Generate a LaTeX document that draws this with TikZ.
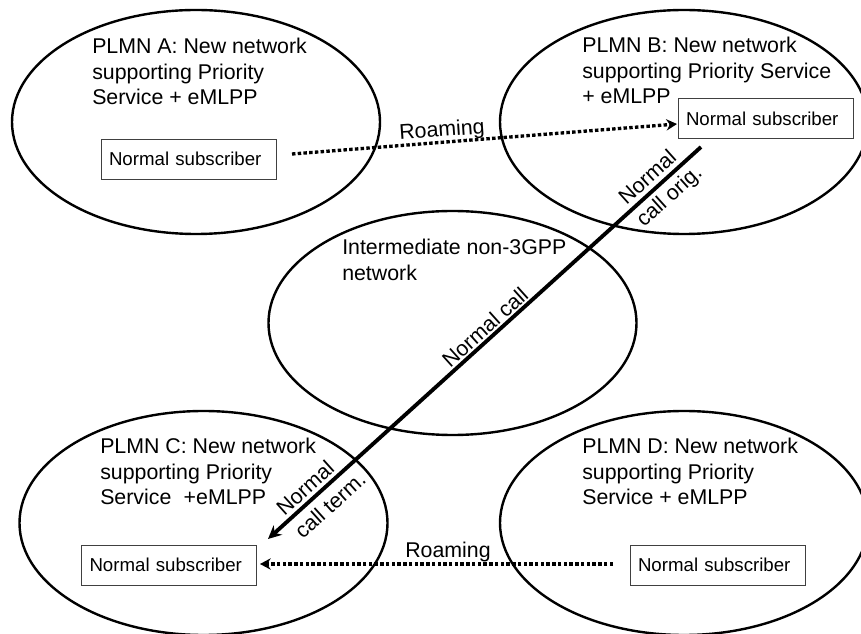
\documentclass[tikz,border=0pt]{standalone}
\usepackage{fontspec}
\setmainfont{Liberation Sans}
\usetikzlibrary{arrows.meta,shapes.geometric}
\tikzset{
 x=0.75pt,y=-0.75pt,
 net/.style={draw,ellipse,line width=1.8pt,inner sep=0pt,minimum width=368*0.75pt,minimum height=224*0.75pt},
 sub/.style={draw,draw=black!75,line width=0.7pt,minimum height=40*0.75pt,inner ysep=0pt,inner xsep=8*0.75pt,text width=159*0.75pt,align=left,font=\fontsize{14}{16}\selectfont},
 lab/.style={align=left,anchor=north west,inner sep=0pt,font=\fontsize{16}{19.1}\selectfont},
 clab/.style={inner sep=0pt,font=\fontsize{16}{18}\selectfont},
 roam/.style={line width=2.5pt,dash pattern=on 2.6pt off 1.7pt,-{Stealth[length=8pt,width=8.5pt]}},
 callw/.style={line width=2.9pt},
}
\begin{document}
\begin{tikzpicture}
\useasboundingbox (0,0) rectangle (861,634);
\node[net] (A) at (196,122) {};
\node[net] (B) at (684,122) {};
\node[net] (I) at (452.5,323) {};
\node[net] (C) at (203.5,523) {};
\node[net] (D) at (684,523) {};
\node[lab] (ta) at (92,38) {PLMN A: New network\\supporting Priority\\Service + eMLPP};
\node[lab] (tb) at (582,37) {PLMN B: New network\\supporting Priority Service\\+ eMLPP};
\node[lab] (ti) at (342,239) {Intermediate non-3GPP\\network};
\node[lab] (tc) at (100,438) {PLMN C: New network\\supporting Priority\\Service\hspace{0.3em} +eMLPP};
\node[lab] (td) at (582,438) {PLMN D: New network\\supporting Priority\\Service + eMLPP};
\node[sub] (sa) at (188.5,159) {Normal subscriber};
\node[sub] (sb) at (765.5,118.5) {Normal subscriber};
\node[sub] (sc) at (169,565) {Normal subscriber};
\node[sub] (sd) at (717.5,565) {Normal subscriber};
\coordinate (ra) at (292,154);
\coordinate (rb) at (677,124);
\coordinate (rd) at (613,564);
\coordinate (rc) at (260,564);
\coordinate (co) at (701,147);
\coordinate (ct) at (268,539);
\draw[roam] (ra) -- (rb);
\draw[roam] (rd) -- (rc);
\draw[callw,-{Stealth[length=10pt,width=9.5pt]}] (co) -- (ct);
\node[clab,rotate=4] (rl1) at (442,131) {Roaming};
\node[clab] (rl2) at (448,552) {Roaming};
\node[clab,rotate=42] (n1) at (647,177) {Normal};
\node[clab,rotate=42] (n2) at (670,197) {call orig.};
\node[clab,rotate=42] (n3) at (485,327) {Normal call};
\node[clab,rotate=42] (n4) at (305,488) {Normal};
\node[clab,rotate=42] (n5) at (330,505) {call term.};
\end{tikzpicture}
\end{document}
